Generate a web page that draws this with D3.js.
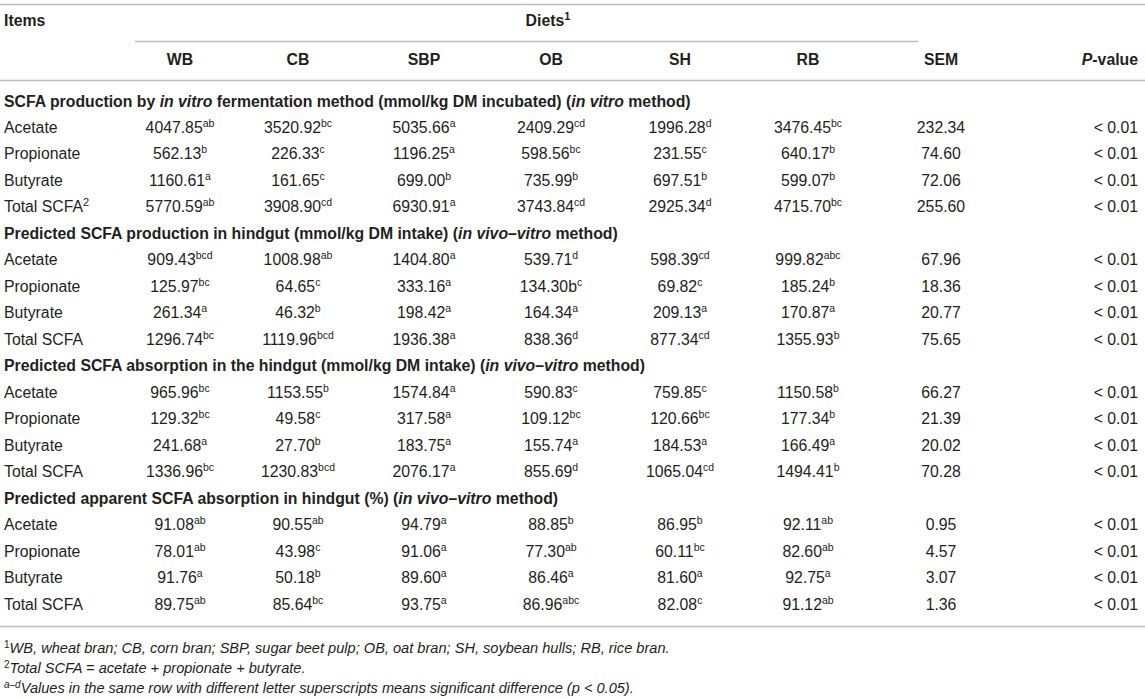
<!DOCTYPE html>
<html>
<head>
<meta charset="utf-8">
<script src="https://cdn.jsdelivr.net/npm/d3@7"></script>
<style>
  body { margin: 0; background: #fff; }
  svg text { font-family: "Liberation Sans", Arial, sans-serif; fill: #231f20; }
</style>
</head>
<body>
<script>
// table values
let diets = ['WB', 'CB', 'SBP', 'OB', 'SH', 'RB'];
let items = ['Acetate', 'Propionate', 'Butyrate', 'Total SCFA'];
let sectionTitles = [
  'SCFA production by *in vitro* fermentation method (mmol/kg DM incubated) (*in vitro* method)',
  'Predicted SCFA production in hindgut (mmol/kg DM intake) (*in vivo–vitro* method)',
  'Predicted SCFA absorption in the hindgut (mmol/kg DM intake) (*in vivo–vitro* method)',
  'Predicted apparent SCFA absorption in hindgut (%) (*in vivo–vitro* method)'
];

// rows = items, columns = diets
let prodVitro = [
  ['4047.85', '3520.92', '5035.66', '2409.29', '1996.28', '3476.45'],
  ['562.13', '226.33', '1196.25', '598.56', '231.55', '640.17'],
  ['1160.61', '161.65', '699.00', '735.99', '697.51', '599.07'],
  ['5770.59', '3908.90', '6930.91', '3743.84', '2925.34', '4715.70']
];
let prodVitroSup = [
  ['ab', 'bc', 'a', 'cd', 'd', 'bc'],
  ['b', 'c', 'a', 'bc', 'c', 'b'],
  ['a', 'c', 'b', 'b', 'b', 'b'],
  ['ab', 'cd', 'a', 'cd', 'd', 'bc']
];
let prodVitroSem = ['232.34', '74.60', '72.06', '255.60'];

let prodHindgut = [
  ['909.43', '1008.98', '1404.80', '539.71', '598.39', '999.82'],
  ['125.97', '64.65', '333.16', '134.30b', '69.82', '185.24'],
  ['261.34', '46.32', '198.42', '164.34', '209.13', '170.87'],
  ['1296.74', '1119.96', '1936.38', '838.36', '877.34', '1355.93']
];
let prodHindgutSup = [
  ['bcd', 'ab', 'a', 'd', 'cd', 'abc'],
  ['bc', 'c', 'a', 'c', 'c', 'b'],
  ['a', 'b', 'a', 'a', 'a', 'a'],
  ['bc', 'bcd', 'a', 'd', 'cd', 'b']
];
let prodHindgutSem = ['67.96', '18.36', '20.77', '75.65'];

let absHindgut = [
  ['965.96', '1153.55', '1574.84', '590.83', '759.85', '1150.58'],
  ['129.32', '49.58', '317.58', '109.12', '120.66', '177.34'],
  ['241.68', '27.70', '183.75', '155.74', '184.53', '166.49'],
  ['1336.96', '1230.83', '2076.17', '855.69', '1065.04', '1494.41']
];
let absHindgutSup = [
  ['bc', 'b', 'a', 'c', 'c', 'b'],
  ['bc', 'c', 'a', 'bc', 'bc', 'b'],
  ['a', 'b', 'a', 'a', 'a', 'a'],
  ['bc', 'bcd', 'a', 'd', 'cd', 'b']
];
let absHindgutSem = ['66.27', '21.39', '20.02', '70.28'];

let absApparent = [
  ['91.08', '90.55', '94.79', '88.85', '86.95', '92.11'],
  ['78.01', '43.98', '91.06', '77.30', '60.11', '82.60'],
  ['91.76', '50.18', '89.60', '86.46', '81.60', '92.75'],
  ['89.75', '85.64', '93.75', '86.96', '82.08', '91.12']
];
let absApparentSup = [
  ['ab', 'ab', 'a', 'b', 'b', 'ab'],
  ['ab', 'c', 'a', 'ab', 'bc', 'ab'],
  ['a', 'b', 'a', 'a', 'a', 'a'],
  ['ab', 'bc', 'a', 'abc', 'c', 'ab']
];
let absApparentSem = ['0.95', '4.57', '3.07', '1.36'];

let pValue = '< 0.01';

let width = 1145;
let height = 699;
let fontSize = 15.8;
let supSize = 10.5;
let lineColor = '#bdbdbd';

let sectionValues = [prodVitro, prodHindgut, absHindgut, absApparent];
let sectionSups = [prodVitroSup, prodHindgutSup, absHindgutSup, absApparentSup];
let sectionSems = [prodVitroSem, prodHindgutSem, absHindgutSem, absApparentSem];

// flatten into table rows: one title row then 4 item rows per section
let rows = [];
sectionTitles.forEach(function (title, s) {
  rows.push({ type: 'title', text: title });
  items.forEach(function (item, i) {
    rows.push({
      type: 'data',
      label: item,
      labelSup: (s === 0 && i === 3) ? '2' : '',
      values: sectionValues[s][i],
      sups: sectionSups[s][i],
      sem: sectionSems[s][i]
    });
  });
});

//x scale for diet columns (auto table layout, columns not equally wide)
let x = d3.scaleOrdinal()
  .domain(diets)
  .range([180, 298, 424, 551, 680, 808]);
let semX = 941;
let pRight = 1138;
let left = 4;

//y scale for body rows
let y = d3.scalePoint()
  .domain(d3.range(rows.length))
  .range([101, 604]);

let svg = d3.select('body').append('svg')
  .attr('width', width)
  .attr('height', height);

// write text with *italic* parts into tspans
function richText(sel, str) {
  str.split('*').forEach(function (part, k) {
    if (!part) return;
    sel.append('tspan')
      .style('font-style', k % 2 ? 'italic' : 'normal')
      .text(part);
  });
}

function addSup(sel, sup, size) {
  if (!sup) return;
  sel.append('tspan')
    .attr('dy', -6)
    .style('font-size', (size || supSize) + 'px')
    .text(sup);
}

// horizontal rules
let rules = [
  { x1: 0, x2: width, y: 4.5 },
  { x1: 135, x2: 918, y: 41.5 },
  { x1: 0, x2: width, y: 80.5 },
  { x1: 0, x2: width, y: 626.5 }
];
svg.append('g').selectAll('line')
  .data(rules)
  .join('line')
  .attr('x1', d => d.x1)
  .attr('x2', d => d.x2)
  .attr('y1', d => d.y)
  .attr('y2', d => d.y)
  .attr('stroke', lineColor)
  .attr('stroke-width', 1.5);

// header
let head = svg.append('g')
  .style('font-size', fontSize + 'px')
  .style('font-weight', 'bold');

head.append('text')
  .attr('x', left).attr('y', 26)
  .text('Items');

let dietsTitle = head.append('text')
  .attr('x', 548)
  .attr('y', 26)
  .attr('text-anchor', 'middle')
  .text('Diets');
addSup(dietsTitle, '1', 11);

head.selectAll('text.diet')
  .data(diets)
  .join('text')
  .attr('class', 'diet')
  .attr('x', d => x(d))
  .attr('y', 65)
  .attr('text-anchor', 'middle')
  .text(d => d);

head.append('text')
  .attr('x', semX).attr('y', 65)
  .attr('text-anchor', 'middle')
  .text('SEM');

let pHead = head.append('text')
  .attr('x', pRight).attr('y', 65)
  .attr('text-anchor', 'end');
pHead.append('tspan').style('font-style', 'italic').text('P');
pHead.append('tspan').text('-value');

// body
let body = svg.append('g')
  .style('font-size', fontSize + 'px');

let rowG = body.selectAll('g.row')
  .data(rows)
  .join('g')
  .attr('class', 'row')
  .attr('transform', (d, i) => 'translate(0,' + (y(i) + 5.5) + ')');

rowG.filter(d => d.type === 'title')
  .append('text')
  .attr('x', left)
  .style('font-weight', 'bold')
  .each(function (d) { richText(d3.select(this), d.text); });

let dataRows = rowG.filter(d => d.type === 'data');

dataRows.append('text')
  .attr('x', left)
  .each(function (d) {
    let t = d3.select(this).text(d.label);
    addSup(t, d.labelSup, 11);
  });

dataRows.each(function (d) {
  let g = d3.select(this);
  g.selectAll('text.val')
    .data(diets)
    .join('text')
    .attr('class', 'val')
    .attr('x', k => x(k))
    .attr('text-anchor', 'middle')
    .each(function (k, j) {
      let t = d3.select(this).text(d.values[j]);
      addSup(t, d.sups[j]);
    });
  g.append('text')
    .attr('x', semX)
    .attr('text-anchor', 'middle')
    .text(d.sem);
  g.append('text')
    .attr('x', pRight)
    .attr('text-anchor', 'end')
    .text(pValue);
});

// footnotes
let notes = svg.append('g')
  .style('font-size', '14.6px')
  .style('font-style', 'italic');

let n1 = notes.append('text').attr('x', left).attr('y', 653);
n1.append('tspan').attr('dy', -5).style('font-size', '10px').style('font-style', 'normal').text('1');
n1.append('tspan').attr('dy', 5).text('WB, wheat bran; CB, corn bran; SBP, sugar beet pulp; OB, oat bran; SH, soybean hulls; RB, rice bran.');

let n2 = notes.append('text').attr('x', left).attr('y', 673);
n2.append('tspan').attr('dy', -5).style('font-size', '10px').style('font-style', 'normal').text('2');
n2.append('tspan').attr('dy', 5).text('Total SCFA = acetate + propionate + butyrate.');

let n3 = notes.append('text').attr('x', left).attr('y', 693);
n3.append('tspan').attr('dy', -5).style('font-size', '10px').text('a–d');
n3.append('tspan').attr('dy', 5).text('Values in the same row with different letter superscripts means significant difference (p < 0.05).');
</script>
</body>
</html>
